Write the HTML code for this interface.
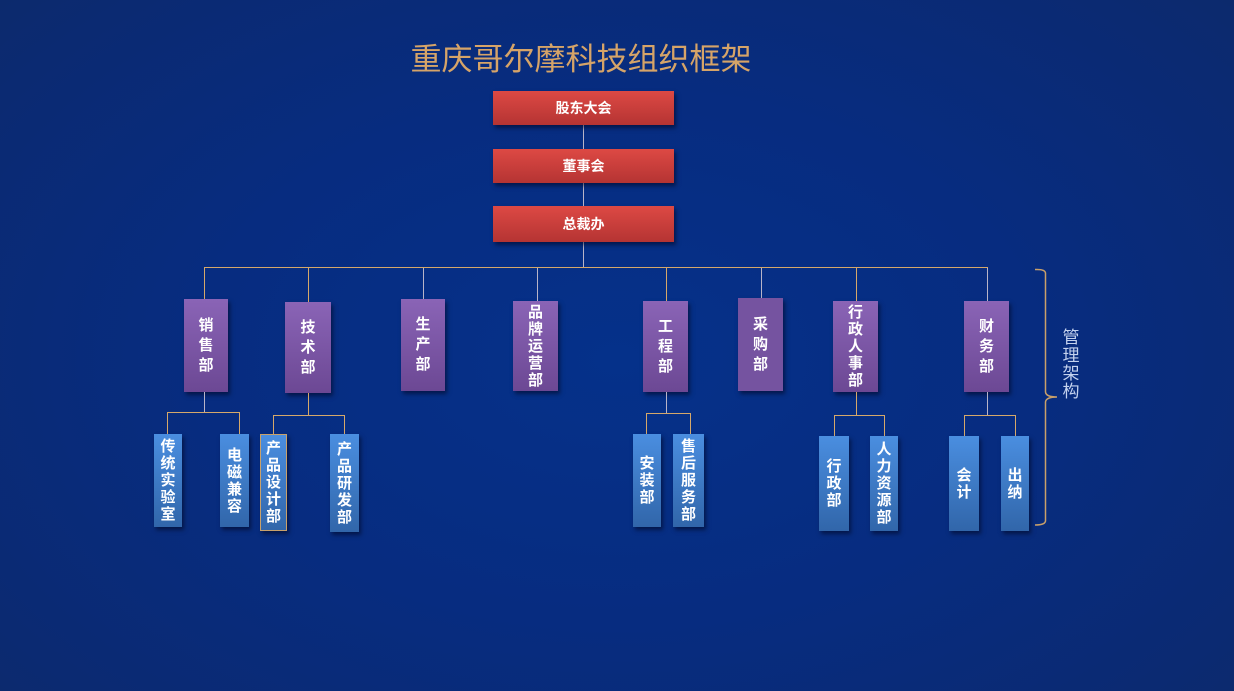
<!DOCTYPE html>
<html><head><meta charset="utf-8"><style>
html,body{margin:0;padding:0}
body{width:1234px;height:691px;position:relative;overflow:hidden;
background:radial-gradient(ellipse 75% 85% at 50% 52%,#05318a 0%,#072c80 45%,#0b2a72 80%,#0d2a68 100%);
font-family:"Liberation Sans","Noto Sans CJK SC",sans-serif;}
.t{position:absolute;left:0;width:1162px;top:34px;text-align:center;font-size:31px;color:#d6a468;font-family:"Liberation Sans","Noto Sans CJK SC",sans-serif;letter-spacing:0px}
.r{position:absolute;left:493px;width:181px;background:linear-gradient(#dd4944,#b53433);color:#fff;font-weight:bold;font-size:14px;display:flex;align-items:center;justify-content:center;box-shadow:2px 3px 4px rgba(0,0,20,.5)}
.p{position:absolute;background:linear-gradient(#8a64b6,#6c4894);color:#fff;font-weight:bold;font-size:15px;display:flex;align-items:center;justify-content:center;text-align:center;line-height:20px;box-shadow:2px 3px 4px rgba(0,0,20,.5)}
.b{position:absolute;background:linear-gradient(#4a8ee0,#3166aa);color:#fff;font-weight:bold;font-size:15px;display:flex;align-items:center;justify-content:center;text-align:center;line-height:17px;box-shadow:2px 3px 4px rgba(0,0,20,.5)}
.h{position:absolute;height:1px;background:#d5a86a}
.v{position:absolute;width:1px;background:#d5a86a}
.lv{background:#b8b4c8}
</style></head><body>
<div class="t">重庆哥尔摩科技组织框架</div>

<div class="v lv" style="left:583px;top:125px;height:142px"></div>
<div class="r" style="top:91px;height:34px">股东大会</div>
<div class="r" style="top:149px;height:34px">董事会</div>
<div class="r" style="top:206px;height:36px">总裁办</div>

<div class="h" style="left:204px;top:267px;width:784px"></div>
<div class="v" style="left:204px;top:267px;height:32px"></div>
<div class="v" style="left:308px;top:268px;height:34px"></div>
<div class="v lv" style="left:423px;top:268px;height:31px"></div>
<div class="v lv" style="left:537px;top:268px;height:33px"></div>
<div class="v" style="left:666px;top:268px;height:33px"></div>
<div class="v lv" style="left:761px;top:268px;height:30px"></div>
<div class="v" style="left:856px;top:268px;height:33px"></div>
<div class="v lv" style="left:987px;top:268px;height:33px"></div>

<div class="p" style="left:184px;top:299px;width:44px;height:93px">销<br>售<br>部</div>
<div class="p" style="left:285px;top:302px;width:46px;height:91px">技<br>术<br>部</div>
<div class="p" style="left:401px;top:299px;width:44px;height:92px">生<br>产<br>部</div>
<div class="p" style="left:513px;top:301px;width:45px;height:90px;line-height:17px">品<br>牌<br>运<br>营<br>部</div>
<div class="p" style="left:643px;top:301px;width:45px;height:91px">工<br>程<br>部</div>
<div class="p" style="left:738px;top:298px;width:45px;height:93px;background:#7553a0">采<br>购<br>部</div>
<div class="p" style="left:833px;top:301px;width:45px;height:91px;line-height:17px">行<br>政<br>人<br>事<br>部</div>
<div class="p" style="left:964px;top:301px;width:45px;height:91px">财<br>务<br>部</div>

<div class="v lv" style="left:204px;top:392px;height:20px"></div>
<div class="h" style="left:167px;top:412px;width:73px"></div>
<div class="v" style="left:167px;top:412px;height:22px"></div>
<div class="v" style="left:239px;top:412px;height:22px"></div>

<div class="v" style="left:308px;top:393px;height:22px"></div>
<div class="h" style="left:273px;top:415px;width:72px"></div>
<div class="v" style="left:273px;top:415px;height:19px"></div>
<div class="v" style="left:344px;top:415px;height:19px"></div>

<div class="v lv" style="left:666px;top:392px;height:21px"></div>
<div class="h" style="left:646px;top:413px;width:45px"></div>
<div class="v" style="left:646px;top:413px;height:21px"></div>
<div class="v" style="left:690px;top:413px;height:21px"></div>

<div class="v" style="left:856px;top:392px;height:23px"></div>
<div class="h" style="left:834px;top:415px;width:51px"></div>
<div class="v" style="left:834px;top:415px;height:21px"></div>
<div class="v" style="left:884px;top:415px;height:21px"></div>

<div class="v lv" style="left:987px;top:392px;height:23px"></div>
<div class="h" style="left:964px;top:415px;width:52px"></div>
<div class="v" style="left:964px;top:415px;height:21px"></div>
<div class="v" style="left:1015px;top:415px;height:21px"></div>

<div class="b" style="left:154px;top:434px;width:28px;height:93px">传<br>统<br>实<br>验<br>室</div>
<div class="b" style="left:220px;top:434px;width:29px;height:93px">电<br>磁<br>兼<br>容</div>
<div class="b" style="left:260px;top:434px;width:25px;height:95px;border:1px solid #c9a16a">产<br>品<br>设<br>计<br>部</div>
<div class="b" style="left:330px;top:434px;width:29px;height:98px">产<br>品<br>研<br>发<br>部</div>
<div class="b" style="left:633px;top:434px;width:28px;height:93px">安<br>装<br>部</div>
<div class="b" style="left:673px;top:434px;width:31px;height:93px">售<br>后<br>服<br>务<br>部</div>
<div class="b" style="left:819px;top:436px;width:30px;height:95px">行<br>政<br>部</div>
<div class="b" style="left:870px;top:436px;width:28px;height:95px">人<br>力<br>资<br>源<br>部</div>
<div class="b" style="left:949px;top:436px;width:30px;height:95px">会<br>计</div>
<div class="b" style="left:1001px;top:436px;width:28px;height:95px">出<br>纳</div>

<svg style="position:absolute;left:0;top:0" width="1234" height="691">
<path d="M1035 269.5 Q1045 269 1045.5 273 L1045.5 392 Q1046 397 1057 397 Q1046 397 1045.5 402 L1045.5 521 Q1045 525 1035 525" fill="none" stroke="#c9a06a" stroke-width="1.5"/>
</svg>
<div style="position:absolute;left:1061px;top:329px;width:20px;font-size:17px;line-height:18px;color:#c4d2ee;text-align:center">管<br>理<br>架<br>构</div>
</body></html>
